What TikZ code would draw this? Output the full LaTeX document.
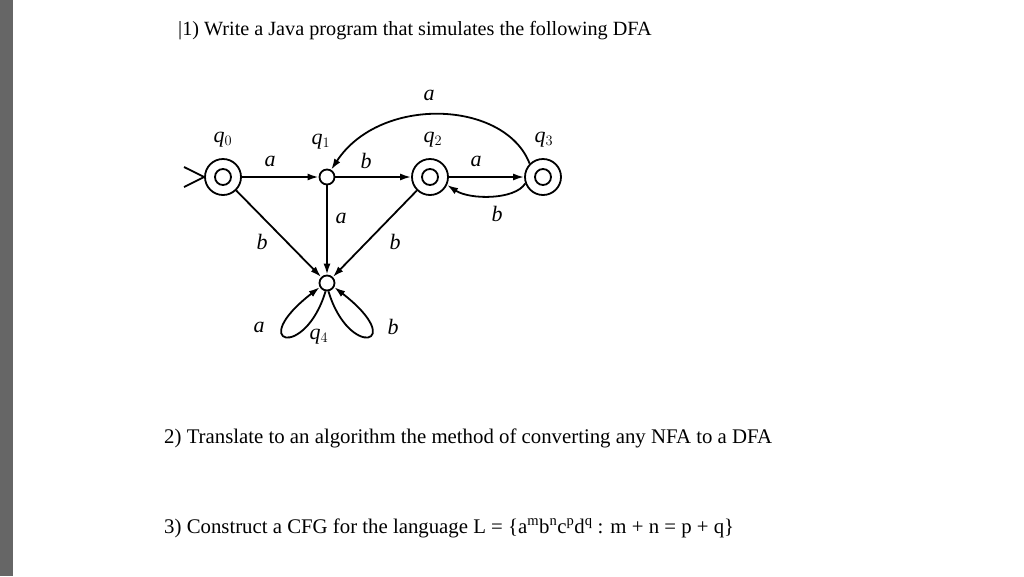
\documentclass[tikz,border=0pt]{standalone}
\usepackage{fontspec}
\setmainfont{Liberation Serif}
\usetikzlibrary{arrows.meta}
\begin{document}
\begin{tikzpicture}[x=1pt,y=-1pt,line width=1.8pt,
  st/.style={circle,draw,minimum size=15pt,inner sep=0pt},
  edge/.style={-{Latex[length=11pt,width=7pt]}},
  lab/.style={font=\fontsize{22}{24}\selectfont\itshape},
  txt/.style={font=\fontsize{20.2}{24}\selectfont,anchor=west},
  txtb/.style={font=\fontsize{20.8}{24}\selectfont,anchor=west}]
\useasboundingbox (0,0) rectangle (1024,576);
\fill[black!60] (0,0) rectangle (13,576);
\node[txt] (t1) at (174,31) {|1) Write a Java program that simulates the following DFA};
\node[txtb] (t2) at (160,438) {2) Translate to an algorithm the method of converting any NFA to a DFA};
\node[txtb] (t3) at (160,528) {3) Construct a CFG for the language L = \{a\textsuperscript{m}b\textsuperscript{n}c\textsuperscript{p}d\textsuperscript{q} : m + n = p + q\}};
% states
\foreach \n/\x/\y in {q0/223/177,q2/430/177,q3/543/177}{
  \node[circle,draw,minimum size=36pt,inner sep=0pt] (\n) at (\x,\y) {};
  \node[circle,draw,minimum size=16pt,inner sep=0pt] (\n i) at (\x,\y) {};
}
\node[st] (q1) at (327,177) {};
\node[st] (q4) at (327,283) {};
% state labels
\node[lab] (l0) at (223,140) {q$_0$};
\node[lab] (l1) at (321,142) {q$_1$};
\node[lab] (l2) at (433,140) {q$_2$};
\node[lab] (l3) at (544,140) {q$_3$};
\node[lab] (l4) at (319,337) {q$_4$};
% start arrow
\coordinate (s1) at (184,167);
\coordinate (s2) at (184,187);
\draw (s1) -- (q0.west) -- (s2);
% edges
\draw[edge] (q0) -- (q1);
\draw[edge] (q1) -- (q2);
\draw[edge] (q2) -- (q3);
\draw[edge] (q3.200) .. controls (515,200) and (470,200) .. (q2.-25);
\draw[edge] (q3.135) .. controls (505,100) and (380,95) .. (q1.60);
\draw[edge] (q1) -- (q4);
\draw[edge] (q0) -- (q4);
\draw[edge] (q2) -- (q4);
\draw[edge] (q4.260) .. controls (305,360) and (245,345) .. (q4.210);
\draw[edge] (q4.280) .. controls (349,360) and (409,345) .. (q4.-30);
% edge labels
\node[lab] (ea) at (270,161) {a};
\node[lab] (eb) at (366,161) {b};
\node[lab] (ec) at (476,161) {a};
\node[lab] (ed) at (497,214) {b};
\node[lab] (ee) at (429,95) {a};
\node[lab] (ef) at (341,218) {a};
\node[lab] (eg) at (262,242) {b};
\node[lab] (eh) at (395,242) {b};
\node[lab] (ei) at (259,327) {a};
\node[lab] (ej) at (393,327) {b};
\end{tikzpicture}
\end{document}
